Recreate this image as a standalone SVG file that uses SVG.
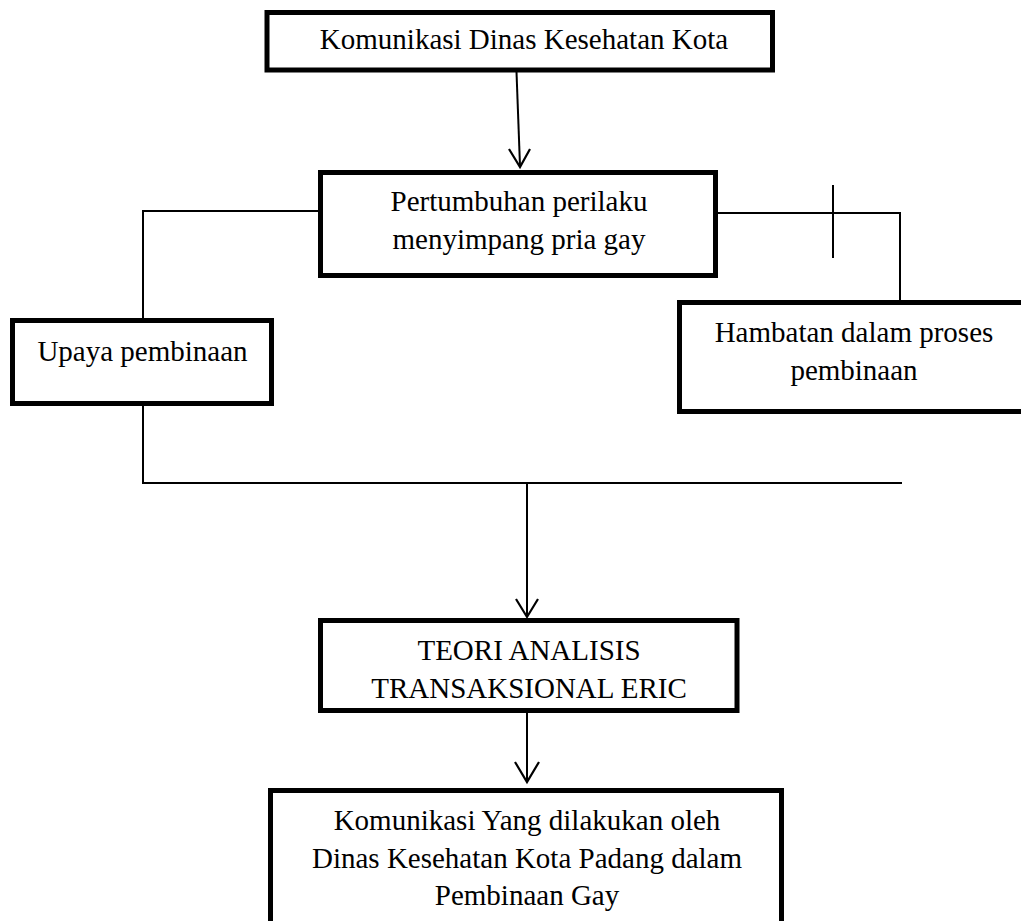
<svg xmlns="http://www.w3.org/2000/svg" width="1021" height="921" viewBox="0 0 1021 921">
<style>
.box{fill:#fff;stroke:#000;stroke-width:5}
.ln{fill:none;stroke:#000;stroke-width:2}
.ah{fill:none;stroke:#000;stroke-width:2.2;stroke-linejoin:miter}
text{font-family:"Liberation Serif","Times New Roman",serif;font-size:29px;fill:#000;text-anchor:middle}
</style>
<rect width="1021" height="921" fill="#fff"/>
<g id="connectors">
<path class="ln" d="M516.5,72 L520,166"/>
<path class="ah" d="M509,149 L520,167 L530,149"/>
<path class="ln" d="M318,211 H143 V318"/>
<path class="ln" d="M718,213 H900 V300"/>
<path class="ln" d="M833,185 V258"/>
<path class="ln" d="M143,406 V483 H902"/>
<path class="ln" d="M527,483 V617"/>
<path class="ah" d="M516,599 L527,617 L538,599"/>
<path class="ln" d="M527,713 V781"/>
<path class="ah" d="M515,762 L527,782 L539,762"/>
</g>
<g id="n1">
<rect class="box" x="267" y="12.5" width="505.5" height="57.5"/>
<text x="524" y="49">Komunikasi Dinas Kesehatan Kota</text>
</g>
<g id="n2">
<rect class="box" x="320.5" y="172.5" width="395" height="103"/>
<text x="519" y="211">Pertumbuhan perilaku</text>
<text x="519" y="249">menyimpang pria gay</text>
</g>
<g id="n3">
<rect class="box" x="12.5" y="320.5" width="259" height="83"/>
<text x="142.5" y="361">Upaya pembinaan</text>
</g>
<g id="n4">
<rect class="box" x="679.5" y="302.5" width="370" height="109"/>
<text x="854" y="342">Hambatan dalam proses</text>
<text x="854" y="380">pembinaan</text>
</g>
<g id="n5">
<rect class="box" x="320.5" y="620.5" width="416.5" height="90"/>
<text x="529" y="660">TEORI ANALISIS</text>
<text x="529" y="698">TRANSAKSIONAL ERIC</text>
</g>
<g id="n6">
<rect class="box" x="270.5" y="790.5" width="511" height="160"/>
<text x="527" y="830">Komunikasi Yang dilakukan oleh</text>
<text x="527" y="868">Dinas Kesehatan Kota Padang dalam</text>
<text x="527" y="905">Pembinaan Gay</text>
</g>
</svg>
